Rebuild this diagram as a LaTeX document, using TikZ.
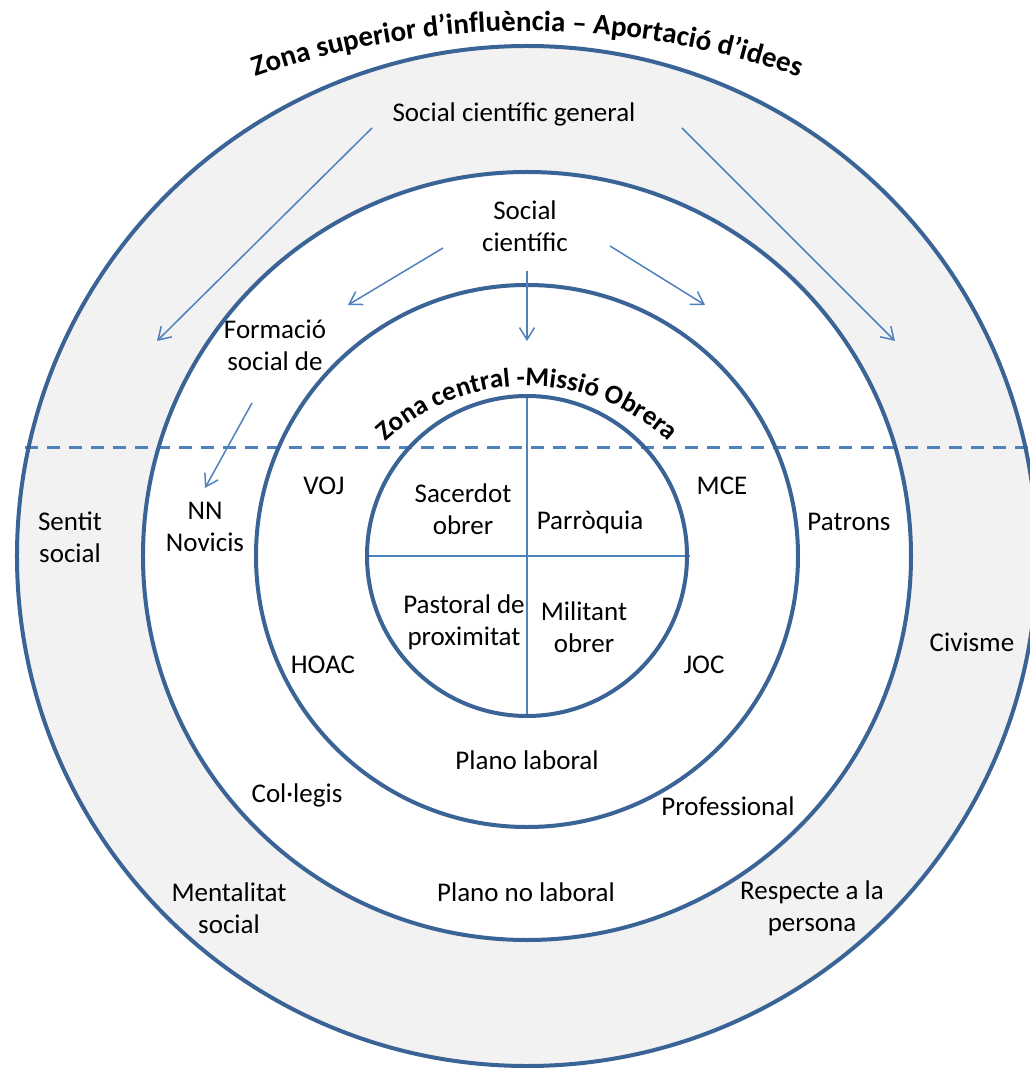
\documentclass[tikz,border=0pt]{standalone}
\usepackage{fontspec}
\setmainfont{Carlito}
\usetikzlibrary{arrows.meta,decorations.text}

\definecolor{ringblue}{HTML}{3B6496}
\definecolor{lineblue}{HTML}{4F81BD}
\definecolor{zonegrey}{HTML}{F2F2F2}

\begin{document}
\begin{tikzpicture}[x=1pt,y=1pt,
   ring/.style={draw=ringblue,line width=4pt},
   lbl/.style={align=center,inner sep=0pt,font=\fontsize{27}{32}\selectfont},
   arr/.style={draw=lineblue,line width=1.5pt,-{Straight Barb[length=12pt,width=15pt]}}]
   \useasboundingbox (-527,-512) rectangle (503,556);

   \fill[zonegrey] (0,0) circle[radius=510];
   \fill[white] (0,0) circle[radius=384];
   \draw[lineblue,line width=3pt,dash pattern=on 13pt off 9pt] (-502,108) -- (503,108);
   \draw[ring] (0,0) circle[radius=510];
   \draw[ring] (0,0) circle[radius=384];
   \draw[ring] (0,0) circle[radius=271];
   \draw[lineblue,line width=1.5pt] (-160,0) -- (163,0);
   \draw[lineblue,line width=1.5pt] (0,160) -- (0,-160);
   \draw[ring] (0,0) circle[radius=160];

   \path[decorate,decoration={text along path,text align=center,
      text={|\fontsize{29}{32}\bfseries|Zona superior d’influència – Aportació d’idees}}]
      (0,-305) ++(122:830) arc[start angle=122,end angle=58,radius=830];
   \path[decorate,decoration={text along path,text align=center,
      text={|\fontsize{27}{30}\bfseries|Zona central -Missió Obrera}}]
      (0,-38) ++(165:208) arc[start angle=165,end angle=15,radius=208];

   \node[lbl] (gen) at (-13,442) {Social científic general};
   \node[lbl] (sc) at (-2,330) {Social\\científic};
   \node[lbl] (form) at (-252,211) {Formació\\social de};
   \node[lbl] (nn) at (-322,29) {NN\\Novicis};
   \node[lbl] (sentit) at (-457,19) {Sentit\\social};
   \node[lbl] (voj) at (-203,70) {VOJ};
   \node[lbl] (sac) at (-64,47) {Sacerdot\\obrer};
   \node[lbl] (parr) at (63,34) {Parròquia};
   \node[lbl] (mce) at (195,70) {MCE};
   \node[lbl] (patr) at (322,34) {Patrons};
   \node[lbl] (past) at (-63,-66) {Pastoral de\\proximitat};
   \node[lbl] (mil) at (57,-71) {Militant\\obrer};
   \node[lbl] (hoac) at (-204,-109) {HOAC};
   \node[lbl] (joc) at (177,-109) {JOC};
   \node[lbl] (civ) at (445,-86) {Civisme};
   \node[lbl] (pl) at (0,-204) {Plano laboral};
   \node[lbl] (col) at (-230,-239) {Col·legis};
   \node[lbl] (prof) at (201,-250) {Professional};
   \node[lbl] (pnl) at (-1,-336) {Plano no laboral};
   \node[lbl] (ment) at (-298,-352) {Mentalitat\\social};
   \node[lbl] (resp) at (285,-352) {Respecte a la\\persona};

   \coordinate (a1) at (-155,428);
   \coordinate (b1) at (-370,215);
   \coordinate (a2) at (155,428);
   \coordinate (b2) at (368,215);
   \coordinate (a3) at (-84,308);
   \coordinate (b3) at (-179,251);
   \coordinate (a4) at (83,310);
   \coordinate (b4) at (178,251);
   \coordinate (a5) at (0,285);
   \coordinate (b5) at (0,215);
   \coordinate (a6) at (-275,153);
   \coordinate (b6) at (-322,68);
   \draw[arr] (a1) -- (b1);
   \draw[arr] (a2) -- (b2);
   \draw[arr] (a3) -- (b3);
   \draw[arr] (a4) -- (b4);
   \draw[arr] (a5) -- (b5);
   \draw[arr] (a6) -- (b6);
\end{tikzpicture}
\end{document}
